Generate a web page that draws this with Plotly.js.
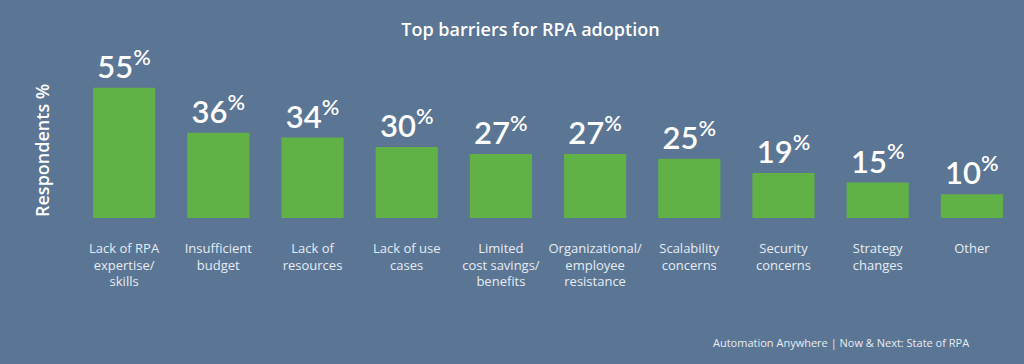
<!DOCTYPE html>
<html><head><meta charset="utf-8">
<script src="https://cdn.plot.ly/plotly-3.0.1.min.js"></script>
<style>html,body{margin:0;padding:0;background:#5b7594;}#c{width:1024px;height:364px;}</style>
</head><body><div id="c"></div>
<script>
const categories = ["Lack of RPA<br>expertise/<br>skills","Insufficient<br>budget","Lack of<br>resources","Lack of use<br>cases","Limited<br>cost savings/<br>benefits","Organizational/<br>employee<br>resistance","Scalability<br>concerns","Security<br>concerns","Strategy<br>changes","Other"];
const values = [55,36,34,30,27,27,25,19,15,10];
const titleText = "Top barriers for RPA adoption";
const yTitle = "Respondents %";
const sourceText = "Automation Anywhere | Now &amp; Next: State of RPA";

const FONT = "'Open Sans', Lato, sans-serif";
const NUMFONT = "Lato, 'Open Sans', sans-serif";
const BG = "#5b7594";
const idx = categories.map((_, i) => i);

const trace = {
  type: "bar",
  x: idx,
  y: values,
  marker: {color: "#61b146"},
  width: 0.66,
  text: values.map(v => v + "<sup>%</sup>"),
  texttemplate: "%{text}",
  textposition: "outside",
  cliponaxis: false,
  textfont: {family: NUMFONT, size: 31, color: "#ffffff", weight: 600},
  hoverinfo: "none"
};

const layout = {
  width: 1024, height: 364,
  paper_bgcolor: BG, plot_bgcolor: BG,
  margin: {l: 77, r: 5, t: 76, b: 146},
  showlegend: false,
  bargap: 0.34,
  title: {text: titleText, font: {family: FONT, size: 18, color: "#ffffff", weight: 600}, x: 0.518, xanchor: "center", y: 1 - 30/364, yanchor: "middle"},
  xaxis: {
    range: [-0.5, 9.5], tickmode: "array", tickvals: idx, ticktext: categories,
    showgrid: false, zeroline: false, showline: false,
    ticks: "outside", ticklen: 18, tickcolor: "rgba(0,0,0,0)",
    tickfont: {family: FONT, size: 13, color: "#e6ecf3"}, fixedrange: true
  },
  yaxis: {range: [0, 60], visible: false, fixedrange: true},
  annotations: [
    {text: yTitle, xref: "paper", yref: "paper", x: (42 - 77) / 942, y: (218 - 151) / 142, textangle: -90, showarrow: false, xanchor: "center", yanchor: "middle", font: {family: FONT, size: 18, color: "#ffffff", weight: 600}},
    {text: sourceText, xref: "paper", yref: "paper", x: (971 - 77) / 942, y: (218 - 342) / 142, xanchor: "right", yanchor: "middle", showarrow: false, font: {family: FONT, size: 11, color: "#e6ecf3"}}
  ]
};

Plotly.newPlot("c", [trace], layout, {displayModeBar: false, staticPlot: true});
</script></body></html>
